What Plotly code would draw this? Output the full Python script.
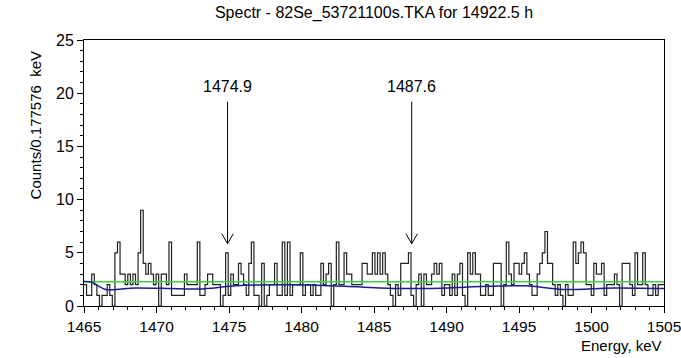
import numpy as np
import plotly.graph_objects as go

# ---------------- data ----------------
bin_start = 1465.0
bin_width = 0.177576
counts = [
    2, 1, 1, 3, 2, 1, 0, 1, 1, 2,      # 0-9
    1, 0, 5, 6, 3, 3, 2, 3, 2, 3,      # 10-19
    2, 5, 9, 4, 3, 4, 3, 2, 3, 0,      # 20-29
    3, 3, 2, 6, 1, 1, 1, 1, 1, 3,      # 30-39
    2, 2, 2, 2, 6, 1, 1, 2, 3, 3,      # 40-49
    2, 2, 2, 0, 1, 5, 1, 3, 2, 2,      # 50-59
    4, 3, 2, 1, 4, 6, 1, 1, 0, 4,      # 60-69
    0, 1, 2, 2, 4, 1, 1, 6, 1, 6,      # 70-79
    1, 2, 2, 2, 5, 1, 2, 2, 1, 2,      # 80-89
    1, 1, 4, 2, 3, 4, 0, 2, 6, 2,      # 90-99
    2, 5, 3, 3, 2, 2, 2, 2, 4, 4,      # 100-109
    3, 3, 5, 3, 5, 3, 5, 3, 2, 1,      # 110-119
    0, 2, 1, 4, 4, 4, 5, 1, 0, 2,      # 120-129
    3, 0, 3, 2, 2, 3, 4, 3, 4, 1,      # 130-139
    2, 2, 1, 3, 1, 3, 4, 1, 0, 5,      # 140-149
    3, 5, 3, 3, 1, 1, 2, 1, 1, 4,      # 150-159
    4, 4, 0, 2, 6, 3, 2, 4, 4, 3,      # 160-169
    4, 5, 3, 2, 1, 1, 3, 4, 5, 7,      # 170-179
    4, 4, 2, 1, 2, 1, 0, 2, 1, 1,      # 180-189
    6, 4, 5, 6, 5, 2, 2, 1, 4, 3,      # 190-199
    3, 4, 1, 2, 2, 2, 3, 2, 0, 4,      # 200-209
    4, 4, 2, 1, 5, 2, 2, 5, 2, 1,      # 210-219
    1, 2, 1, 2, 2, 2,                  # 220-225
]

# background fits
blue_x = [1465.0, 1465.5, 1466.5, 1468.5, 1471.0, 1473.0, 1475.5,
          1479.5, 1483.0, 1486.5, 1489.0, 1493.0, 1495.5,
          1498.0, 1501.5, 1505.0]
blue_y = [2.3, 2.25, 1.55, 1.7, 1.65, 1.6, 1.9,
          2.0, 1.85, 1.65, 1.65, 1.85, 1.9,
          1.55, 1.7, 1.65]
green_x = [1465.0, 1505.0]
green_y = [2.27, 2.27]

peak_energies = [1474.9, 1487.6]
peak_labels = ["1474.9", "1487.6"]
arrow_top = 19.2
arrow_tip = 5.85
label_y = 20.6

x_ticks = [1465, 1470, 1475, 1480, 1485, 1490, 1495, 1500, 1505]
y_ticks = [0, 5, 10, 15, 20, 25]

title_text = "Spectr - 82Se_53721100s.TKA for 14922.5 h"
xlabel = "Energy, keV"
ylabel = "Counts/0.177576  keV"

# ---------------- figure ----------------
FONT = "Liberation Sans, Arial, sans-serif"
n = len(counts)
edges = bin_start + bin_width * np.arange(n + 1)
hx = np.concatenate([edges[:-1], [edges[-1]]])
hy = np.concatenate([counts, [counts[-1]]])

fig = go.Figure()
fig.add_trace(go.Scatter(x=hx, y=hy, mode="lines", line=dict(shape="hv", color="#222222", width=1.2),
                         hoverinfo="skip", showlegend=False))
fig.add_trace(go.Scatter(x=green_x, y=green_y, mode="lines", line=dict(color="#3fcf3f", width=1.5),
                         showlegend=False))
fig.add_trace(go.Scatter(x=blue_x, y=blue_y, mode="lines",
                         line=dict(color="#1c1c8c", width=1.5, shape="spline", smoothing=0.8),
                         showlegend=False))

shapes = []
annotations = []
hw, hh = 0.40, 0.95
for e, lab in zip(peak_energies, peak_labels):
    shapes.append(dict(type="line", xref="x", yref="y", x0=e, x1=e, y0=arrow_top, y1=arrow_tip,
                       line=dict(color="black", width=1)))
    shapes.append(dict(type="line", xref="x", yref="y", x0=e - hw, x1=e, y0=arrow_tip + hh, y1=arrow_tip,
                       line=dict(color="black", width=1)))
    shapes.append(dict(type="line", xref="x", yref="y", x0=e + hw, x1=e, y0=arrow_tip + hh, y1=arrow_tip,
                       line=dict(color="black", width=1)))
    annotations.append(dict(x=e, y=label_y, xref="x", yref="y", text=lab, showarrow=False,
                            font=dict(family=FONT, size=16, color="black")))

annotations.append(dict(x=1, y=-0.11, xref="paper", yref="paper", text=xlabel, showarrow=False,
                        xanchor="right", yanchor="top", font=dict(family=FONT, size=15, color="black")))
annotations.append(dict(x=-0.084, y=0.68, xref="paper", yref="paper", text=ylabel, showarrow=False,
                        textangle=-90, xanchor="center", yanchor="middle",
                        font=dict(family=FONT, size=15, color="black")))

fig.update_layout(
    width=681, height=358,
    margin=dict(l=84, r=17, t=40, b=52, autoexpand=False),
    paper_bgcolor="white", plot_bgcolor="white",
    title=dict(text=title_text, x=0.5, xref="paper", xanchor="center", y=0.965, yanchor="middle",
               font=dict(family=FONT, size=16, color="black")),
    shapes=shapes, annotations=annotations,
    showlegend=False,
)
fig.update_xaxes(range=[1465, 1505], tickvals=x_ticks, ticktext=[str(v) for v in x_ticks],
                 showgrid=False, zeroline=False, showline=True, linecolor="black", linewidth=1,
                 mirror=True, ticks="outside", ticklen=6, tickcolor="black",
                 ticklabeloverflow="allow", automargin=False,
                 minor=dict(dtick=1, ticks="outside", ticklen=3, tickcolor="black"),
                 tickfont=dict(family=FONT, size=15.5, color="black"))
fig.update_yaxes(range=[0, 25], tickvals=y_ticks, ticktext=[str(v) for v in y_ticks],
                 showgrid=False, zeroline=False, showline=True, linecolor="black", linewidth=1,
                 mirror=True, ticks="outside", ticklen=6, tickcolor="black", automargin=False,
                 minor=dict(dtick=1, ticks="outside", ticklen=3, tickcolor="black"),
                 tickfont=dict(family=FONT, size=16, color="black"))

fig.write_html("out.html", config={"displayModeBar": False},
               post_script="document.body.style.margin='0';document.body.style.padding='0';")
